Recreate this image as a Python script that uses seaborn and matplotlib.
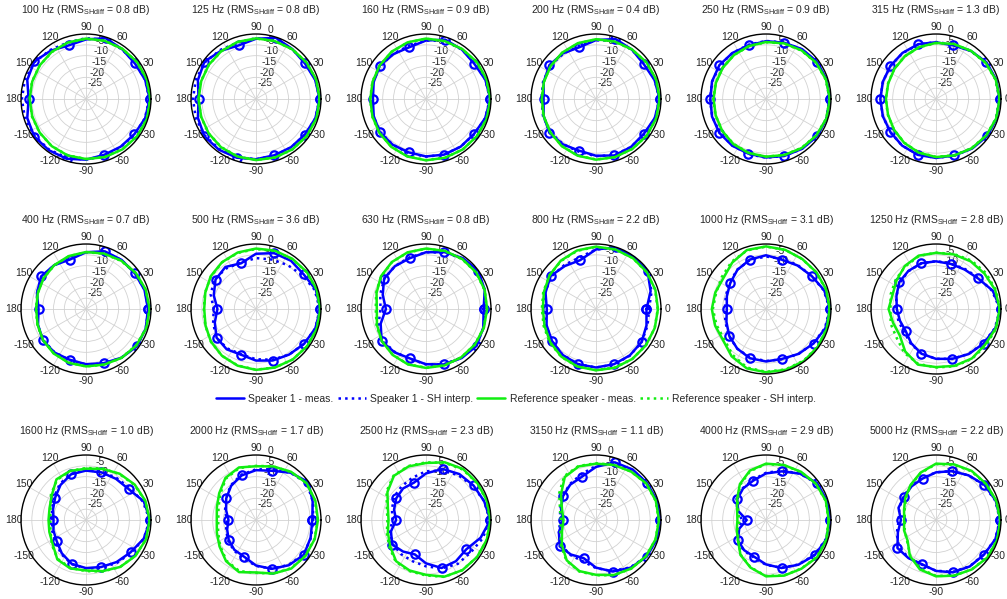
import numpy as np
import pandas as pd
import matplotlib
matplotlib.use("Agg")
import matplotlib.pyplot as plt
from matplotlib.lines import Line2D
import seaborn as sns

# Third-octave band centre frequencies and RMS difference of the SH interpolation
freqs = [100, 125, 160, 200, 250, 315, 400, 500, 630, 800, 1000, 1250,
         1600, 2000, 2500, 3150, 4000, 5000]
rms_sh_diff = [0.8, 0.8, 0.9, 0.4, 0.9, 1.3, 0.7, 3.6, 0.8, 2.2, 3.1, 2.8,
               1.0, 1.7, 2.3, 1.1, 2.9, 2.2]

# Azimuth grid of the directivity data (degrees); measured points every 2nd sample
angles_deg = [0, 18, 36, 54, 72, 90, 108, 126, 144, 162,
              180, 198, 216, 234, 252, 270, 288, 306, 324, 342]

# Normalised level (dB) per band, one row per frequency
speaker_meas = [
    [-0.6, -1.3, -2.1, -1.6, -0.5, -2.5, -4.0, -2.4, -0.5, -1.5, -3.5, -1.5, -0.5, -0.8, -1.0, -2.0, -2.9, -2.8, -2.4, -1.3],
    [-0.6, -1.3, -2.1, -1.5, -0.3, -2.2, -4.0, -2.5, -0.6, -1.8, -3.5, -1.8, -0.6, -1.0, -1.5, -2.2, -2.7, -2.5, -2.1, -1.2],
    [-0.3, -1.2, -2.4, -1.8, -1.2, -3.0, -4.9, -4.4, -3.7, -4.6, -5.5, -4.6, -3.7, -3.9, -4.1, -3.5, -3.0, -2.8, -2.6, -1.3],
    [-0.6, -1.6, -2.7, -1.8, -0.9, -2.8, -4.9, -4.0, -3.4, -4.6, -5.8, -4.6, -3.4, -4.1, -4.9, -3.8, -2.6, -2.6, -2.7, -1.5],
    [-0.6, -0.6, -0.8, -1.6, -2.7, -3.3, -4.0, -3.7, -3.4, -3.8, -4.3, -3.8, -3.4, -3.4, -3.5, -3.0, -2.4, -1.6, -0.8, -0.6],
    [-0.6, -0.8, -1.2, -2.6, -4.0, -3.8, -3.4, -3.7, -4.0, -4.2, -4.3, -4.2, -4.0, -3.4, -2.9, -2.8, -2.6, -1.7, -0.8, -0.6],
    [-1.4, -1.6, -2.1, -2.0, -2.0, -3.8, -6.0, -5.0, -4.4, -6.2, -8.1, -6.7, -5.4, -5.2, -5.4, -4.5, -3.7, -2.2, -0.8, -1.0],
    [-0.3, -1.0, -2.8, -2.5, -2.9, -4.5, -7.8, -6.0, -6.9, -9.5, -12.2, -10.0, -7.5, -7.0, -7.8, -6.2, -5.0, -4.0, -2.6, -1.2],
    [-3.4, -1.5, -0.1, -1.0, -2.4, -3.8, -5.4, -5.6, -6.1, -9.0, -11.5, -8.0, -4.7, -5.3, -6.0, -4.5, -3.1, -2.0, -1.1, -2.2],
    [-6.7, -3.5, -0.5, -0.3, -0.1, -2.5, -6.3, -5.5, -4.1, -5.5, -7.3, -6.0, -4.9, -3.8, -3.2, -3.0, -3.2, -3.5, -4.0, -5.5],
    [-0.3, -1.8, -4.0, -5.2, -6.1, -5.2, -6.0, -7.6, -9.6, -11.0, -11.9, -10.8, -9.0, -7.4, -6.1, -5.8, -5.8, -4.4, -2.9, -1.2],
    [-0.2, -2.5, -6.0, -7.5, -8.1, -8.0, -7.8, -8.3, -9.0, -10.8, -11.9, -12.5, -12.7, -10.5, -8.3, -7.0, -5.8, -4.3, -2.9, -1.2],
    [-0.3, -2.0, -5.7, -6.5, -6.9, -7.2, -7.8, -10.0, -12.4, -14.0, -15.0, -14.2, -13.3, -11.0, -8.7, -7.8, -7.2, -6.0, -4.6, -2.0],
    [-4.0, -2.5, -0.2, -3.0, -6.1, -7.0, -8.4, -10.5, -13.0, -15.5, -17.3, -16.0, -14.4, -13.0, -12.2, -9.0, -6.3, -4.2, -2.7, -3.5],
    [-0.3, -1.8, -2.9, -3.8, -5.2, -8.5, -11.9, -12.0, -13.0, -14.5, -16.2, -13.0, -10.7, -12.0, -13.3, -10.0, -6.7, -6.5, -7.0, -3.5],
    [-0.3, -0.5, -0.9, -1.2, -2.0, -5.5, -9.0, -9.8, -11.2, -13.0, -14.7, -12.0, -9.3, -10.3, -11.5, -8.0, -5.0, -2.8, -1.1, -0.6],
    [-0.3, -0.5, -0.9, -3.5, -6.4, -8.5, -10.9, -12.0, -13.6, -16.5, -21.1, -17.0, -14.0, -12.8, -12.2, -9.5, -6.7, -4.5, -2.3, -0.8],
    [-0.3, -1.0, -2.4, -4.5, -6.3, -8.0, -9.9, -10.8, -11.8, -11.8, -13.8, -11.5, -8.0, -8.3, -8.6, -6.5, -4.6, -3.5, -2.7, -1.2],
]

speaker_sh = [
    [-0.8, -1.3, -1.8, -1.7, -1.3, -1.9, -2.6, -2.0, -0.8, -0.4, -0.4, -0.4, -0.8, -1.1, -1.5, -2.0, -2.5, -2.6, -2.2, -1.4],
    [-0.7, -1.2, -1.7, -1.6, -1.3, -1.9, -2.6, -2.0, -1.0, -0.8, -0.9, -0.8, -1.0, -1.4, -1.8, -2.2, -2.5, -2.4, -2.0, -1.2],
    [-0.5, -1.2, -2.0, -1.8, -1.8, -3.0, -4.2, -4.2, -4.0, -4.3, -4.6, -4.4, -4.0, -3.9, -3.8, -3.4, -3.0, -2.8, -2.4, -1.3],
    [-0.8, -1.5, -2.2, -1.9, -1.7, -2.9, -4.3, -4.2, -3.9, -4.3, -4.8, -4.3, -3.9, -4.2, -4.4, -3.6, -2.8, -2.6, -2.4, -1.4],
    [-0.7, -0.8, -1.0, -1.8, -2.6, -3.2, -3.7, -3.7, -3.6, -3.9, -4.1, -3.9, -3.6, -3.5, -3.3, -2.9, -2.4, -1.7, -1.0, -0.7],
    [-0.8, -1.0, -1.4, -2.6, -3.6, -3.7, -3.6, -3.8, -4.0, -4.2, -4.3, -4.2, -3.9, -3.4, -3.0, -2.8, -2.5, -1.8, -1.1, -0.8],
    [-1.2, -1.5, -2.0, -2.1, -2.4, -3.8, -5.4, -5.0, -4.8, -6.2, -7.4, -6.5, -5.6, -5.3, -5.2, -4.4, -3.5, -2.2, -1.1, -1.0],
    [-0.6, -1.5, -3.5, -5.0, -6.0, -6.5, -7.5, -6.8, -6.4, -8.0, -10.5, -9.2, -7.4, -7.5, -8.0, -6.8, -5.4, -4.0, -2.6, -1.2],
    [-2.6, -1.5, -0.5, -1.3, -2.6, -3.8, -5.0, -5.6, -6.2, -7.8, -9.0, -7.0, -5.2, -5.5, -5.8, -4.4, -3.2, -2.2, -1.5, -2.0],
    [-5.5, -3.0, -1.0, -0.6, -0.5, -2.5, -5.0, -5.0, -4.5, -5.3, -6.5, -5.8, -4.8, -3.8, -3.3, -3.0, -3.0, -3.4, -4.0, -5.0],
    [-0.6, -2.0, -4.0, -5.0, -5.6, -5.8, -6.2, -7.5, -9.2, -10.5, -11.0, -10.3, -8.8, -7.4, -6.4, -6.0, -5.6, -4.4, -3.0, -1.4],
    [-0.5, -2.8, -5.6, -7.2, -7.9, -7.9, -7.9, -8.4, -9.3, -10.8, -11.5, -11.8, -11.8, -10.2, -8.4, -7.0, -5.8, -4.4, -3.0, -1.4],
    [-0.6, -2.4, -5.0, -6.0, -6.6, -7.0, -7.6, -9.4, -11.8, -13.5, -14.4, -13.6, -12.6, -10.6, -8.6, -7.6, -6.8, -5.6, -4.2, -2.0],
    [-3.6, -2.4, -1.0, -3.0, -5.4, -6.6, -8.0, -10.2, -12.8, -15.0, -16.5, -15.5, -14.0, -12.6, -11.4, -8.8, -6.4, -4.4, -2.9, -3.3],
    [-0.6, -1.8, -3.2, -4.5, -6.0, -7.5, -9.5, -10.8, -11.8, -13.5, -14.5, -12.5, -11.0, -10.5, -10.0, -8.6, -6.5, -5.0, -4.5, -2.5],
    [-0.5, -0.7, -1.0, -1.5, -2.5, -5.0, -7.8, -9.5, -11.0, -12.5, -13.5, -12.0, -10.2, -10.0, -10.0, -7.8, -5.2, -3.0, -1.3, -0.7],
    [-0.5, -0.7, -1.2, -3.5, -6.0, -8.2, -10.5, -11.8, -13.2, -16.0, -19.0, -16.5, -13.8, -12.6, -11.8, -9.3, -6.8, -4.6, -2.5, -1.0],
    [-0.5, -1.2, -2.6, -4.5, -6.2, -8.0, -9.6, -10.6, -11.4, -12.2, -12.8, -11.0, -8.8, -8.5, -8.4, -6.6, -4.8, -3.6, -2.8, -1.3],
]

reference_meas = [
    [-0.3, -0.5, -0.9, -1.4, -1.8, -2.1, -2.6, -3.1, -3.6, -3.9, -4.0, -3.9, -3.6, -3.1, -2.6, -2.3, -1.8, -1.3, -0.8, -0.4],
    [-0.6, -0.8, -1.2, -1.6, -1.9, -2.0, -2.3, -2.7, -3.1, -3.4, -3.5, -3.4, -3.0, -2.5, -2.1, -1.8, -1.6, -1.3, -1.0, -0.7],
    [-0.3, -0.6, -1.0, -1.5, -1.9, -2.1, -2.5, -3.0, -3.6, -4.1, -4.3, -4.0, -3.4, -2.7, -2.1, -1.7, -1.5, -1.2, -0.9, -0.5],
    [-0.6, -0.8, -1.2, -1.7, -2.1, -2.4, -2.9, -3.5, -4.1, -4.7, -5.0, -4.6, -3.9, -3.1, -2.5, -2.0, -1.8, -1.5, -1.1, -0.8],
    [-0.5, -0.9, -1.4, -2.2, -3.0, -3.7, -4.3, -4.9, -5.4, -5.7, -5.8, -5.6, -5.0, -4.3, -3.8, -3.4, -2.8, -2.0, -1.3, -0.7],
    [-0.6, -1.0, -1.6, -2.5, -3.3, -4.1, -4.8, -5.6, -6.3, -6.8, -6.9, -6.7, -6.0, -5.0, -4.0, -3.2, -2.6, -1.9, -1.3, -0.8],
    [-0.6, -1.0, -1.6, -2.4, -3.1, -3.7, -4.3, -5.0, -5.8, -6.6, -7.0, -6.5, -5.5, -4.6, -3.9, -3.5, -3.0, -2.1, -1.3, -0.8],
    [-0.3, -0.6, -1.0, -1.4, -1.7, -2.1, -2.6, -3.3, -4.2, -5.4, -6.1, -5.5, -4.3, -3.3, -2.5, -1.9, -1.6, -1.2, -0.8, -0.5],
    [-1.8, -1.5, -1.3, -1.5, -1.8, -2.1, -2.5, -3.2, -4.3, -6.0, -7.3, -6.2, -4.8, -3.8, -3.1, -2.8, -2.6, -2.4, -2.1, -1.9],
    [-1.4, -1.2, -1.0, -1.0, -1.1, -1.2, -1.6, -2.4, -3.5, -4.7, -5.5, -5.0, -3.9, -2.8, -2.1, -1.7, -1.5, -1.5, -1.5, -1.5],
    [-0.6, -0.8, -1.2, -1.5, -1.3, -1.1, -1.4, -3.5, -5.7, -5.4, -5.0, -5.3, -5.5, -3.0, -1.2, -0.8, -0.5, -0.3, -0.4, -0.5],
    [-0.6, -1.3, -2.3, -2.8, -3.5, -4.1, -4.1, -5.5, -7.5, -8.9, -8.1, -9.2, -9.3, -5.8, -3.0, -3.2, -2.4, -1.8, -2.0, -1.0],
    [-0.6, -1.2, -2.2, -3.6, -5.2, -6.3, -6.2, -6.8, -10.5, -12.3, -12.7, -12.2, -11.0, -7.5, -6.5, -6.7, -5.2, -3.2, -1.8, -0.9],
    [-1.4, -1.2, -1.1, -2.5, -4.0, -5.2, -4.5, -6.0, -9.0, -11.0, -11.9, -11.0, -9.2, -6.5, -4.7, -5.8, -4.0, -2.3, -1.8, -1.5],
    [-0.3, -0.5, -0.8, -0.9, -2.0, -3.7, -4.0, -4.8, -8.0, -11.5, -12.7, -11.5, -9.5, -6.5, -5.5, -4.7, -2.5, -1.4, -0.9, -0.5],
    [-0.9, -1.0, -1.3, -2.4, -3.3, -4.0, -4.0, -5.5, -10.0, -13.5, -15.0, -13.5, -10.5, -7.0, -5.2, -4.7, -3.3, -2.3, -1.5, -1.1],
    [-1.0, -1.0, -1.5, -2.5, -3.3, -4.0, -6.0, -9.5, -13.5, -16.0, -16.8, -15.8, -14.0, -10.0, -6.9, -4.0, -3.0, -2.2, -0.8, -0.6],
    [-0.3, -0.8, -1.5, -2.0, -3.0, -4.0, -7.0, -10.0, -12.5, -14.5, -15.3, -14.5, -13.8, -9.5, -6.0, -4.0, -3.0, -1.8, -0.6, -0.3],
]

reference_sh = [
    [-0.4, -0.6, -1.0, -1.4, -1.8, -2.2, -2.7, -3.2, -3.6, -3.8, -3.9, -3.8, -3.5, -3.1, -2.7, -2.3, -1.9, -1.4, -0.9, -0.5],
    [-0.6, -0.9, -1.3, -1.6, -1.9, -2.1, -2.4, -2.8, -3.1, -3.3, -3.4, -3.3, -3.0, -2.6, -2.2, -1.9, -1.6, -1.3, -1.0, -0.7],
    [-0.4, -0.7, -1.1, -1.6, -2.0, -2.2, -2.6, -3.1, -3.6, -4.0, -4.2, -3.9, -3.4, -2.8, -2.2, -1.8, -1.5, -1.2, -0.9, -0.6],
    [-0.7, -0.9, -1.3, -1.8, -2.2, -2.5, -3.0, -3.6, -4.1, -4.6, -4.9, -4.5, -3.9, -3.2, -2.6, -2.1, -1.8, -1.5, -1.1, -0.8],
    [-0.6, -1.0, -1.5, -2.3, -3.1, -3.8, -4.4, -4.9, -5.3, -5.6, -5.7, -5.5, -5.0, -4.4, -3.9, -3.4, -2.8, -2.1, -1.4, -0.8],
    [-0.7, -1.1, -1.7, -2.6, -3.4, -4.2, -4.9, -5.6, -6.2, -6.7, -6.8, -6.6, -6.0, -5.1, -4.1, -3.3, -2.7, -2.0, -1.4, -0.9],
    [-0.7, -1.1, -1.7, -2.5, -3.2, -3.8, -4.4, -5.1, -5.8, -6.5, -6.9, -6.4, -5.5, -4.7, -4.0, -3.5, -3.0, -2.2, -1.4, -0.9],
    [-0.4, -0.7, -1.1, -1.5, -1.9, -2.3, -2.8, -3.4, -4.3, -5.3, -5.9, -5.4, -4.3, -3.3, -2.6, -2.0, -1.6, -1.2, -0.8, -0.5],
    [-1.9, -1.6, -1.4, -1.6, -1.9, -2.2, -2.6, -3.3, -4.4, -5.8, -6.8, -6.0, -4.8, -3.9, -3.2, -2.9, -2.6, -2.4, -2.1, -2.0],
    [-1.5, -1.3, -1.1, -1.0, -1.1, -1.3, -1.8, -2.6, -3.5, -4.4, -5.0, -4.6, -3.6, -2.7, -2.1, -1.8, -1.6, -1.5, -1.5, -1.5],
    [-0.6, -0.9, -1.3, -1.5, -1.3, -1.2, -1.6, -3.0, -4.8, -5.8, -5.5, -6.0, -6.2, -3.8, -1.6, -1.0, -0.7, -0.5, -0.5, -0.6],
    [-0.5, -1.0, -1.6, -2.3, -3.3, -4.0, -4.3, -5.8, -7.0, -8.0, -9.0, -8.0, -7.5, -5.0, -3.4, -3.0, -2.2, -1.6, -1.5, -0.8],
    [-0.6, -1.3, -2.4, -3.8, -5.0, -6.0, -6.2, -7.2, -10.0, -12.8, -13.5, -12.8, -10.5, -7.8, -6.8, -6.4, -5.0, -3.2, -1.9, -0.9],
    [-1.5, -1.3, -1.2, -2.6, -4.0, -5.0, -4.8, -6.4, -9.6, -11.8, -12.6, -11.6, -9.6, -6.8, -5.2, -5.6, -4.0, -2.5, -1.9, -1.6],
    [-0.4, -0.6, -0.9, -1.2, -2.2, -3.4, -3.8, -4.6, -7.5, -11.0, -12.2, -11.0, -9.0, -6.2, -5.2, -4.4, -2.4, -1.4, -0.9, -0.5],
    [-1.0, -1.1, -1.4, -2.4, -3.2, -3.8, -3.8, -5.0, -9.0, -12.5, -13.8, -12.8, -10.0, -6.8, -5.0, -4.5, -3.2, -2.3, -1.5, -1.1],
    [-1.1, -1.1, -1.6, -2.6, -3.4, -4.2, -6.3, -9.8, -13.8, -16.5, -17.8, -16.2, -14.2, -10.2, -7.0, -4.2, -3.1, -2.3, -1.0, -0.8],
    [-0.4, -0.9, -1.6, -2.2, -3.2, -4.2, -7.2, -10.2, -12.8, -14.8, -15.6, -14.8, -13.5, -9.8, -6.4, -4.2, -3.0, -1.9, -0.7, -0.4],
]

series_labels = ["Speaker 1 - meas.", "Speaker 1 - SH interp.",
                 "Reference speaker - meas.", "Reference speaker - SH interp."]
theta_labels = ["0", "30", "60", "90", "120", "150", "180",
                "-150", "-120", "-90", "-60", "-30"]
r_ticks = [-25, -20, -15, -10, -5, 0]
r_labels = ["-25", "-20", "-15", "-10", "-5", "0"]

BLUE = "#0000ff"
GREEN = "#11ee11"

sns.set_theme(style="white")
plt.rcParams["font.family"] = ["Liberation Sans", "DejaVu Sans"]
plt.rcParams["mathtext.fontset"] = "custom"
plt.rcParams["mathtext.rm"] = "Liberation Sans"
plt.rcParams["mathtext.it"] = "Liberation Sans:italic"

W, H = 1007, 599
fig = plt.figure(figsize=(W / 100, H / 100), dpi=100)
fig.patch.set_facecolor("white")

col_x = [86, 256, 426, 596, 766, 936]
row_y = [99, 309, 520]
R = 65
FS = 7.5


def closed_frame(levels):
    theta = np.deg2rad(np.array(angles_deg + [360], dtype=float))
    vals = list(levels) + [levels[0]]
    return pd.DataFrame({"theta": theta, "level": vals})


for i, f in enumerate(freqs):
    r, c = divmod(i, 6)
    cx, cy = col_x[c], row_y[r]
    ax = fig.add_axes([(cx - R) / W, (H - cy - R) / H, 2 * R / W, 2 * R / H],
                      projection="polar")

    ax.set_ylim(-30, 0)
    ax.set_yticks(r_ticks)
    ax.set_yticklabels(r_labels, fontsize=FS)
    ax.set_rlabel_position(80)
    ax.set_thetagrids(np.arange(0, 360, 30), labels=theta_labels, fontsize=FS)
    ax.tick_params(axis="x", pad=-8)
    ax.tick_params(axis="y", pad=0)
    ax.grid(True, color="#d2d2d2", lw=0.6)
    ax.spines["polar"].set_color("black")
    ax.spines["polar"].set_linewidth(1.0)
    ax.set_facecolor("white")

    sns.lineplot(data=closed_frame(speaker_meas[i]), x="theta", y="level", ax=ax,
                 sort=False, estimator=None, color=BLUE, lw=1.8,
                 marker="o", markevery=2, ms=6, mfc="none", mec=BLUE, mew=1.6)
    sns.lineplot(data=closed_frame(speaker_sh[i]), x="theta", y="level", ax=ax,
                 sort=False, estimator=None, color=BLUE, lw=1.8, ls=":")
    sns.lineplot(data=closed_frame(reference_meas[i]), x="theta", y="level", ax=ax,
                 sort=False, estimator=None, color=GREEN, lw=1.8)
    sns.lineplot(data=closed_frame(reference_sh[i]), x="theta", y="level", ax=ax,
                 sort=False, estimator=None, color=GREEN, lw=1.8, ls=":")
    ax.set_xlabel("")
    ax.set_ylabel("")

    ax.text(0.5, 1.16, f"{f} Hz (RMS$_{{\\mathrm{{SHdiff}}}}$ = {rms_sh_diff[i]:.1f} dB)",
            transform=ax.transAxes, ha="center", va="baseline", fontsize=FS)

handles = [
    Line2D([], [], color=BLUE, lw=1.8),
    Line2D([], [], color=BLUE, lw=1.8, ls=":"),
    Line2D([], [], color=GREEN, lw=1.8),
    Line2D([], [], color=GREEN, lw=1.8, ls=":"),
]
fig.legend(handles, series_labels, loc="center", ncol=4, frameon=False,
           bbox_to_anchor=(516 / W, 1 - 399 / H), fontsize=FS,
           handlelength=2.7, handletextpad=0.4, columnspacing=0.4)

fig.savefig("out.png", dpi=100, facecolor="white")
